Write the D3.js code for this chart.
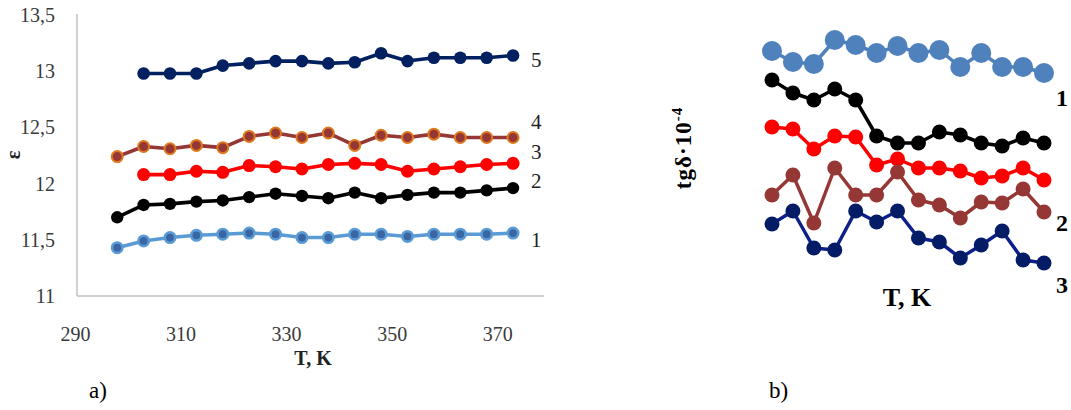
<!DOCTYPE html>
<html><head><meta charset="utf-8">
<script src="https://cdn.jsdelivr.net/npm/d3@7"></script>
<style>
body{margin:0;background:#fff}
svg{display:block;background:#fff}
text{font-family:"Liberation Serif","Times New Roman",serif}
</style>
</head><body>
<svg id="c" width="1071" height="410"></svg>
<script>
// ---------- data: panel a) permittivity ----------
const tempsA = [298,303,308,313,318,323,328,333,338,343,348,353,358,363,368,373];
const epsilon1 = [11.43,11.49,11.52,11.54,11.55,11.56,11.55,11.52,11.52,11.55,11.55,11.53,11.55,11.55,11.55,11.56];
const epsilon2 = [11.70,11.81,11.82,11.84,11.85,11.88,11.91,11.89,11.87,11.92,11.87,11.90,11.92,11.92,11.94,11.96];
const epsilon3 = [null,12.08,12.08,12.11,12.10,12.16,12.15,12.13,12.17,12.18,12.17,12.11,12.13,12.15,12.17,12.18];
const epsilon4 = [12.24,12.33,12.31,12.34,12.32,12.42,12.45,12.41,12.45,12.34,12.43,12.41,12.44,12.41,12.41,12.41];
const epsilon5 = [null,12.98,12.98,12.98,13.05,13.07,13.09,13.09,13.07,13.08,13.16,13.09,13.12,13.12,13.12,13.14];
const yTicksA = [11,11.5,12,12.5,13,13.5];
const xTicksA = [290,310,330,350,370];
const seriesNamesA = ["1","2","3","4","5"];

// ---------- data: panel b) loss tangent (arbitrary units, no axis shown) ----------
const tempsB = [298,303,308,313,318,323,328,333,338,343,348,353,358,363];
const tgd1 = [24.9,23.8,23.6,26.0,25.5,24.7,25.4,24.7,25.0,23.3,24.7,23.3,23.3,22.7];
const tgd2 = [22.0,20.7,20.0,21.1,20.0,16.4,15.7,15.7,16.8,16.5,15.7,15.4,16.2,15.7];
const tgd3 = [17.3,17.1,15.1,16.4,16.3,13.5,14.1,13.2,13.2,12.9,12.2,12.4,13.2,12.0];
const tgd4 = [10.5,12.5,7.7,13.2,10.5,10.5,12.8,10.0,9.5,8.2,9.8,9.7,11.1,8.8];
const tgd5 = [7.6,8.9,5.2,5.0,8.9,7.8,8.9,6.2,5.8,4.2,5.5,6.9,4.0,3.7];
const seriesNamesB = ["1","2","3"];

// ---------- drawing ----------
const svg = d3.select("#c");
svg.append("rect").attr("width",1071).attr("height",410).attr("fill","#fff");

// Panel a
const xA = d3.scaleLinear().domain([290,380]).range([75,550]);
const yA = d3.scaleLinear().domain([11,13.5]).range([296,15]);
const fmt = d => String(d).replace(".", ",");

const gA = svg.append("g");
// frame lines
gA.append("line").attr("x1",77).attr("x2",77).attr("y1",yA(13.5)-1).attr("y2",yA(11))
  .attr("stroke","#c0c0c0").attr("stroke-width",1.5);
gA.append("line").attr("x1",77).attr("x2",544).attr("y1",yA(11)).attr("y2",yA(11))
  .attr("stroke","#c0c0c0").attr("stroke-width",1.5);

const yAxisA = gA.append("g").attr("transform","translate(77,0)")
  .call(d3.axisLeft(yA).tickValues(yTicksA).tickSize(0).tickPadding(22).tickFormat(fmt));
yAxisA.select(".domain").remove();
yAxisA.selectAll("text").attr("font-size",20).attr("fill","#3a3a3a")
  .style("font-family","'Liberation Serif',serif");

const xAxisA = gA.append("g").attr("transform",`translate(0,${yA(11)})`)
  .call(d3.axisBottom(xA).tickValues(xTicksA).tickSize(0).tickPadding(31).tickFormat(d3.format("d")));
xAxisA.select(".domain").remove();
xAxisA.selectAll("text").attr("font-size",20).attr("fill","#3a3a3a")
  .style("font-family","'Liberation Serif',serif");

const seriesA = [
  {vals: epsilon1, line:"#5b9bd5", fill:"#3a66a3", stroke:"#5b9bd5", sw:2.6, r:5.2},
  {vals: epsilon2, line:"#000000", fill:"#000000", stroke:"#000000", sw:0, r:6.2},
  {vals: epsilon3, line:"#ff0000", fill:"#ff0000", stroke:"#ff0000", sw:0, r:6.5},
  {vals: epsilon4, line:"#953735", fill:"#953735", stroke:"#e0781e", sw:2, r:5.5},
  {vals: epsilon5, line:"#002060", fill:"#002060", stroke:"#002060", sw:0, r:6.3}
];
const lineA = d3.line().defined(d => d.v != null).x(d => xA(d.t)).y(d => yA(d.v));
seriesA.forEach(s => {
  const pts = tempsA.map((t,i) => ({t, v: s.vals[i]}));
  gA.append("path").datum(pts).attr("d",lineA).attr("fill","none")
    .attr("stroke",s.line).attr("stroke-width",3.6).attr("stroke-linejoin","round");
  gA.selectAll(null).data(pts.filter(d => d.v != null)).enter().append("circle")
    .attr("cx",d => xA(d.t)).attr("cy",d => yA(d.v)).attr("r",s.r)
    .attr("fill",s.fill).attr("stroke",s.stroke).attr("stroke-width",s.sw);
});

// series labels a
const labelPosA = [11.50, 12.03, 12.28, 12.55, 13.10];
seriesNamesA.forEach((n,i) => {
  gA.append("text").attr("x",531).attr("y",yA(labelPosA[i])).attr("dy","0.35em")
    .attr("font-size",21).attr("fill","#222").text(n);
});

gA.append("text").attr("x",313).attr("y",365).attr("text-anchor","middle")
  .attr("font-size",20).attr("font-weight","bold").attr("fill","#222").text("T, K");
gA.append("text").attr("transform","translate(20,155) rotate(-90)").attr("text-anchor","middle")
  .attr("font-size",20).attr("font-weight","bold").attr("fill","#222").text("ε");
svg.append("text").attr("x",89).attr("y",398).attr("font-size",23).attr("fill","#000").text("a)");

// Panel b
const xB = d3.scaleLinear().domain([298,363]).range([772,1044]);
const yB = d3.scaleLinear().domain([0,30]).range([300,0]);
const gB = svg.append("g");
const seriesB = [
  {vals: tgd1, line:"#4f81bd", fill:"#4f81bd", r:10},
  {vals: tgd2, line:"#000000", fill:"#000000", r:7.5},
  {vals: tgd3, line:"#ff0000", fill:"#ff0000", r:7.5},
  {vals: tgd4, line:"#953735", fill:"#953735", r:7.5},
  {vals: tgd5, line:"#0d1f8a", fill:"#041c66", r:7.5}
];
const lineB = d3.line().x(d => xB(d.t)).y(d => yB(d.v));
seriesB.forEach(s => {
  const pts = tempsB.map((t,i) => ({t, v: s.vals[i]}));
  gB.append("path").datum(pts).attr("d",lineB).attr("fill","none")
    .attr("stroke",s.line).attr("stroke-width",3.5).attr("stroke-linejoin","round");
  gB.selectAll(null).data(pts).enter().append("circle")
    .attr("cx",d => xB(d.t)).attr("cy",d => yB(d.v)).attr("r",s.r).attr("fill",s.fill);
});
const labelPosB = [20.2, 7.7, 1.5];
seriesNamesB.forEach((n,i) => {
  gB.append("text").attr("x",1056).attr("y",yB(labelPosB[i])).attr("dy","0.35em")
    .attr("font-size",24).attr("font-weight","bold").attr("fill","#000").text(n);
});
gB.append("text").attr("x",907).attr("y",306).attr("text-anchor","middle")
  .attr("font-size",26).attr("font-weight","bold").attr("fill","#000").text("T, K");
const yl = gB.append("text").attr("transform","translate(691,148) rotate(-90)").attr("text-anchor","middle")
  .attr("font-size",23).attr("font-weight","bold").attr("fill","#000").attr("letter-spacing",1);
yl.append("tspan").text("tgδ·10");
yl.append("tspan").attr("font-size",15).attr("dy",-9).text("-4");
svg.append("text").attr("x",769).attr("y",398).attr("font-size",23).attr("fill","#000").text("b)");
</script>
</body></html>
